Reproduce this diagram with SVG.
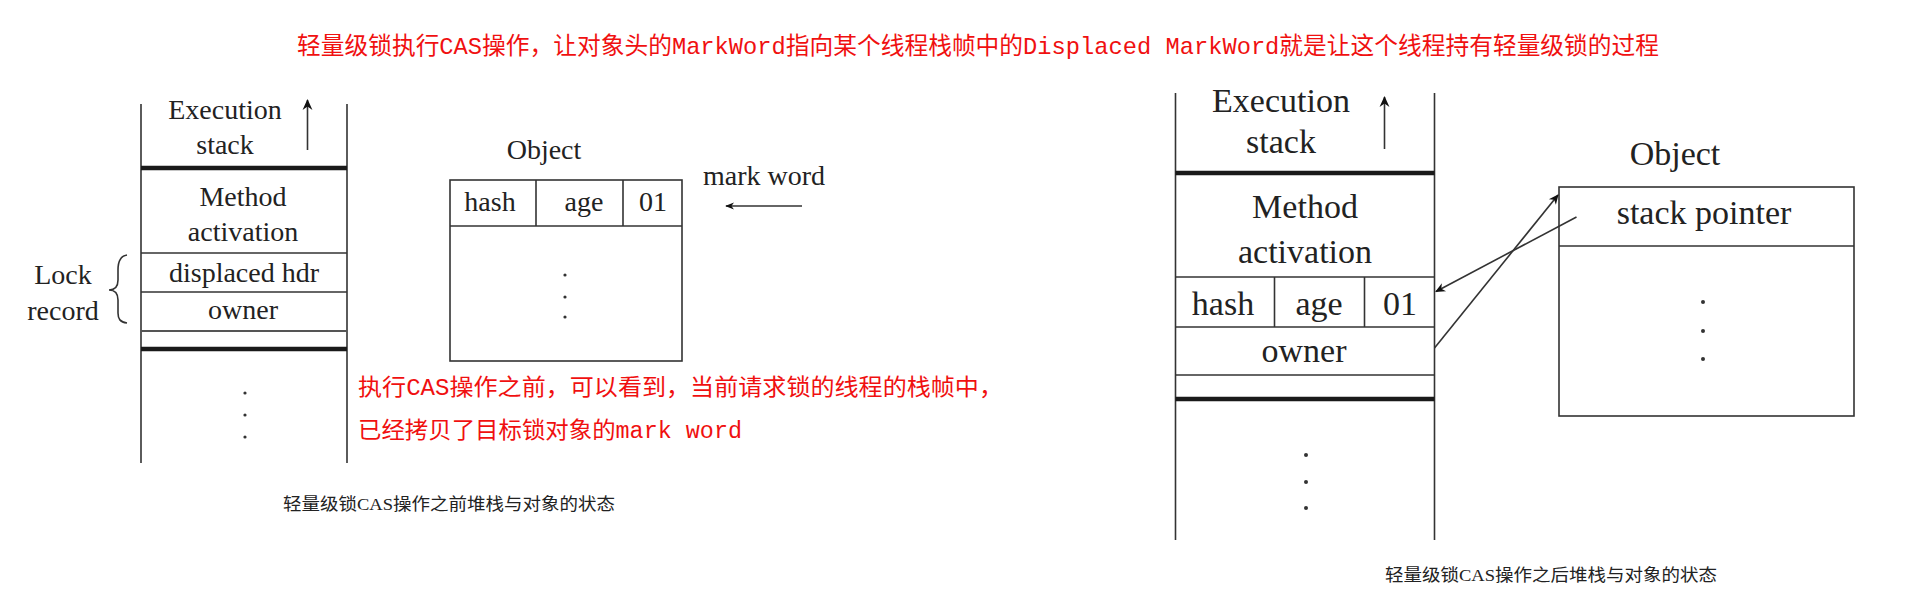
<svg xmlns="http://www.w3.org/2000/svg" width="1920" height="600" viewBox="0 0 1920 600">
<style>
.t{font-family:"Liberation Serif","Noto Sans CJK SC",serif;fill:#222;text-anchor:middle}
.l{font-size:28px}
.r{font-size:34px}
.red{font-family:"Liberation Mono","Noto Sans CJK SC",monospace;fill:#f01010}
.cap{font-family:"Liberation Serif","Noto Sans CJK SC",serif;fill:#222;font-size:17px}
.ln{stroke:#333;stroke-width:1.6;fill:none}
.thick{stroke:#1a1a1a;stroke-width:4.5}
.dot{fill:#333}
</style>
<defs>
<marker id="ah" viewBox="0 0 10 10" refX="9" refY="5" markerWidth="9" markerHeight="9" markerUnits="userSpaceOnUse" orient="auto">
<path d="M0,1 L10,5 L0,9 L3,5 Z" fill="#111"/>
</marker>
<marker id="ah1" viewBox="0 0 10 10" refX="9" refY="5" markerWidth="13" markerHeight="11" markerUnits="userSpaceOnUse" orient="auto">
<path d="M0,0.5 L10,5 L0,9.5 L3,5 Z" fill="#111"/>
</marker>
<marker id="ah2" viewBox="0 0 10 10" refX="9" refY="5" markerWidth="11" markerHeight="10" markerUnits="userSpaceOnUse" orient="auto">
<path d="M0,0.5 L10,5 L0,9.5 L3,5 Z" fill="#111"/>
</marker>
</defs>
<rect width="1920" height="600" fill="#fff"/>

<g id="title">
<text class="red" x="297" y="54" font-size="24" textLength="1362" lengthAdjust="spacingAndGlyphs">轻量级锁执行CAS操作，让对象头的MarkWord指向某个线程栈帧中的Displaced MarkWord就是让这个线程持有轻量级锁的过程</text>
</g>

<g id="left-stack">
<line class="ln" x1="141" y1="104" x2="141" y2="463"/>
<line class="ln" x1="347" y1="104" x2="347" y2="463"/>
<line class="thick" x1="141" y1="168" x2="347" y2="168"/>
<line class="ln" x1="141" y1="253" x2="347" y2="253"/>
<line class="ln" x1="141" y1="292" x2="347" y2="292"/>
<line x1="141" y1="331" x2="347" y2="331" stroke="#555" stroke-width="2"/>
<line class="thick" x1="141" y1="349" x2="347" y2="349"/>
<text class="t l" x="225" y="119">Execution</text>
<text class="t l" x="225" y="154">stack</text>
<text class="t l" x="243" y="206">Method</text>
<text class="t l" x="243" y="241">activation</text>
<text class="t l" x="244" y="282">displaced hdr</text>
<text class="t l" x="243" y="319">owner</text>
<circle class="dot" cx="245" cy="393" r="1.6"/>
<circle class="dot" cx="245" cy="415" r="1.6"/>
<circle class="dot" cx="245" cy="437" r="1.6"/>
</g>

<g id="lock-record">
<text class="t l" x="63" y="284">Lock</text>
<text class="t l" x="63" y="320">record</text>
<path class="ln" d="M127,255 C120,256 118,262 118,270 L118,280 C118,287 114,290 109,290 C114,290 118,293 118,300 L118,313 C118,319 120,322 127,323"/>
</g>

<g id="left-object">
<text class="t l" x="544" y="159">Object</text>
<rect class="ln" x="450" y="180" width="232" height="181"/>
<line class="ln" x1="450" y1="226" x2="682" y2="226"/>
<line class="ln" x1="536" y1="180" x2="536" y2="226"/>
<line class="ln" x1="623" y1="180" x2="623" y2="226"/>
<text class="t l" x="490" y="211">hash</text>
<text class="t l" x="584" y="211">age</text>
<text class="t l" x="653" y="211">01</text>
<circle class="dot" cx="565" cy="275" r="1.6"/>
<circle class="dot" cx="565" cy="297" r="1.6"/>
<circle class="dot" cx="565" cy="317" r="1.6"/>
</g>

<g id="mark-word-label">
<text class="t l" x="764" y="185">mark word</text>
</g>

<g id="left-note">
<text class="red" x="358" y="395" font-size="23" textLength="645" lengthAdjust="spacingAndGlyphs">执行CAS操作之前，可以看到，当前请求锁的线程的栈帧中，</text>
<text class="red" x="358" y="438" font-size="23" textLength="384" lengthAdjust="spacingAndGlyphs">已经拷贝了目标锁对象的mark word</text>
</g>

<g id="left-caption">
<text class="cap" x="283" y="510" textLength="332" lengthAdjust="spacingAndGlyphs">轻量级锁CAS操作之前堆栈与对象的状态</text>
</g>

<g id="right-stack">
<line class="ln" x1="1175.5" y1="93" x2="1175.5" y2="540"/>
<line class="ln" x1="1434.5" y1="93" x2="1434.5" y2="540"/>
<line class="thick" x1="1175.5" y1="173" x2="1434.5" y2="173"/>
<line class="ln" x1="1175.5" y1="277" x2="1434.5" y2="277"/>
<line class="ln" x1="1274.5" y1="277" x2="1274.5" y2="327"/>
<line class="ln" x1="1364.5" y1="277" x2="1364.5" y2="327"/>
<line class="ln" x1="1175.5" y1="327" x2="1434.5" y2="327"/>
<line class="ln" x1="1175.5" y1="375" x2="1434.5" y2="375"/>
<line class="thick" x1="1175.5" y1="399" x2="1434.5" y2="399"/>
<text class="t r" x="1281" y="112">Execution</text>
<text class="t r" x="1281" y="153">stack</text>
<text class="t r" x="1305" y="218">Method</text>
<text class="t r" x="1305" y="263">activation</text>
<text class="t r" x="1223" y="315">hash</text>
<text class="t r" x="1319" y="315">age</text>
<text class="t r" x="1400" y="315">01</text>
<text class="t r" x="1304" y="362">owner</text>
<circle class="dot" cx="1306" cy="455" r="2"/>
<circle class="dot" cx="1306" cy="482" r="2"/>
<circle class="dot" cx="1306" cy="508" r="2"/>
</g>

<g id="right-object">
<text class="t r" x="1675" y="165">Object</text>
<rect class="ln" x="1559" y="187" width="295" height="229"/>
<line class="ln" x1="1559" y1="246" x2="1854" y2="246"/>
<text class="t r" x="1704" y="224">stack pointer</text>
<circle class="dot" cx="1703" cy="302" r="2"/>
<circle class="dot" cx="1703" cy="331" r="2"/>
<circle class="dot" cx="1703" cy="359" r="2"/>
</g>

<g id="right-caption">
<text class="cap" x="1385" y="581" textLength="332" lengthAdjust="spacingAndGlyphs">轻量级锁CAS操作之后堆栈与对象的状态</text>
</g>

<g id="connectors">
<line class="ln" x1="307.5" y1="150" x2="307.5" y2="100" marker-end="url(#ah1)"/>
<line class="ln" x1="802" y1="206" x2="726" y2="206" marker-end="url(#ah)"/>
<line class="ln" x1="1384.5" y1="149" x2="1384.5" y2="97" marker-end="url(#ah1)"/>
<line class="ln" x1="1434.5" y1="348" x2="1558" y2="195" marker-end="url(#ah2)"/>
<line class="ln" x1="1576.5" y1="217" x2="1436" y2="291.5" marker-end="url(#ah2)"/>
</g>
</svg>
